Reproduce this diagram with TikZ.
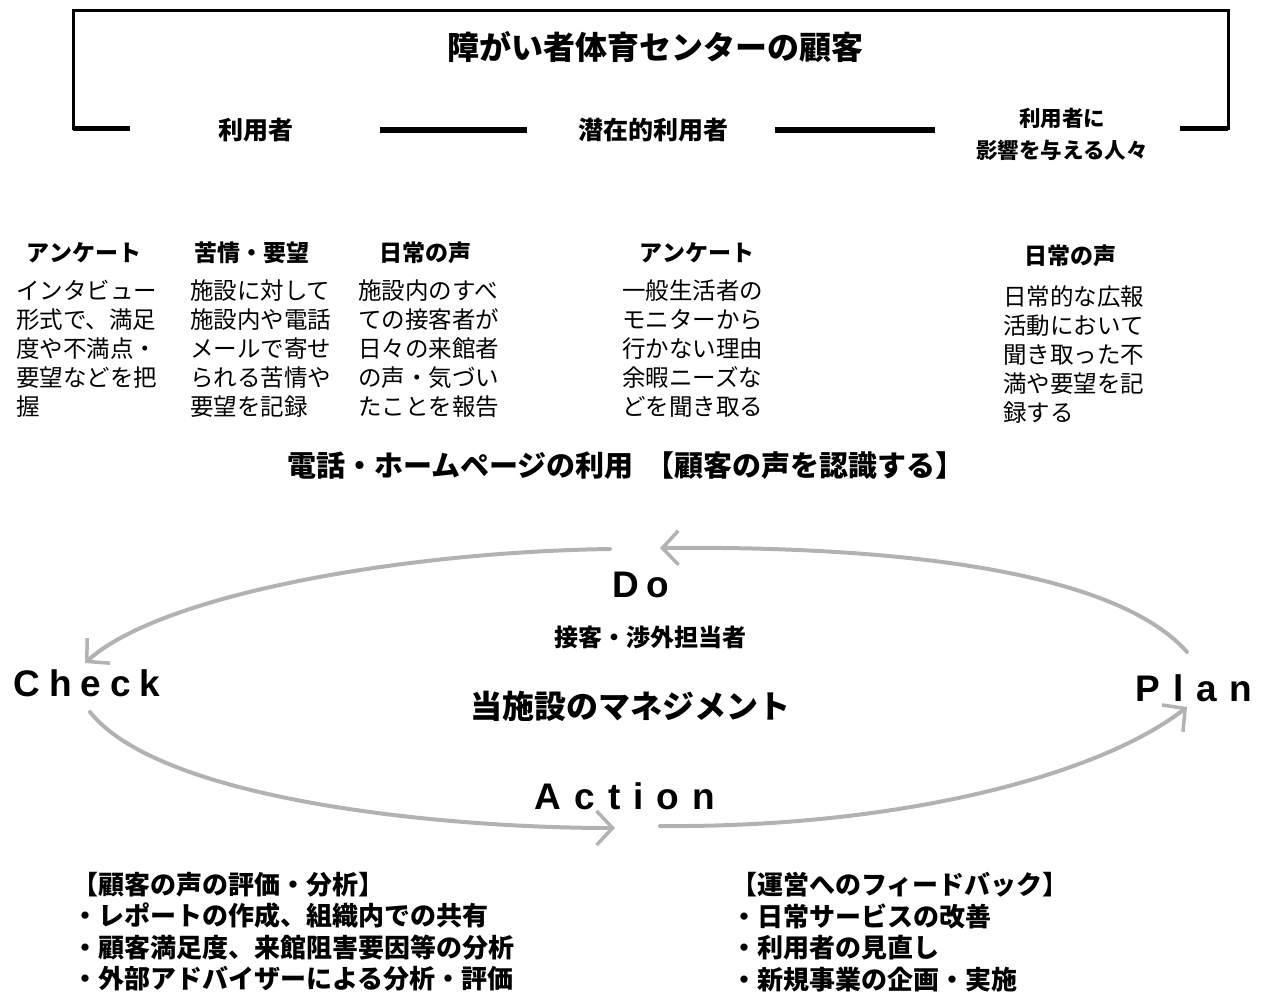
\documentclass[tikz,border=0pt]{standalone}
\usepackage{fontspec}
\usetikzlibrary{arrows.meta}
\newfontfamily\jp{Noto Sans CJK JP}
\newfontfamily\lat{Liberation Sans}
\begin{document}
\begin{tikzpicture}[x=1pt,y=-1pt,
  titlefont/.style={font=\jp\bfseries\fontsize{32}{36}\selectfont},
  grp/.style={font=\jp\bfseries\fontsize{25}{31}\selectfont, align=center},
  grpsmall/.style={font=\jp\bfseries\fontsize{21.5}{32}\selectfont, align=center},
  hd/.style={font=\jp\bfseries\fontsize{23}{28}\selectfont},
  body/.style={font=\jp\fontsize{23.5}{29}\selectfont, align=left, anchor=north west, inner sep=0pt},
  mid/.style={font=\jp\bfseries\fontsize{29}{32}\selectfont},
  pdca/.style={font=\lat\bfseries\fontsize{37}{40}\selectfont, inner sep=0pt},
  sub/.style={font=\jp\bfseries\fontsize{24}{28}\selectfont},
  mgmt/.style={font=\jp\bfseries\fontsize{32}{36}\selectfont},
  lst/.style={font=\jp\bfseries\fontsize{26}{31.5}\selectfont, align=left, anchor=north west, inner sep=0pt},
  frame/.style={line width=3pt},
  bar/.style={line width=6pt},
  cyc/.style={draw=gray!60, line width=4pt, line cap=round,
    -{Straight Barb[length=16pt,width=34pt,line width=3.5pt]}}]
\useasboundingbox (0,0) rectangle (1261,996);

% top bracket
\node[titlefont] (title) at (655,47) {障がい者体育センターの顧客};
\draw[frame] (130,128) -- (73,128) -- (73,10) -- (1228,10) -- (1228,128) -- (1180,128);
\draw[line width=5pt] (73,128) -- (130,128);
\draw[line width=5pt] (1180,128) -- (1228,128);
\node[grp] (user) at (256,130) {利用者};
\node[grp] (pot) at (653,130) {潜在的利用者};
\node[grpsmall] (infl) at (1062,134) {利用者に\\影響を与える人々};
\draw[bar] (380,130) -- (527,130);
\draw[bar] (775,130) -- (935,130);

% column headers
\node[hd] (h1) at (84,253) {アンケート};
\node[hd] (h2) at (252,253) {苦情・要望};
\node[hd] (h3) at (425,253) {日常の声};
\node[hd] (h4) at (697,253) {アンケート};
\node[hd] (h5) at (1070,256) {日常の声};

% column bodies
\node[body] (b1) at (16,280) {インタビュー\\形式で、満足\\度や不満点・\\要望などを把\\握};
\node[body] (b2) at (190,280) {施設に対して\\施設内や電話\\メールで寄せ\\られる苦情や\\要望を記録};
\node[body] (b3) at (358,280) {施設内のすべ\\ての接客者が\\日々の来館者\\の声・気づい\\たことを報告};
\node[body] (b4) at (622,280) {一般生活者の\\モニターから\\行かない理由\\余暇ニーズな\\どを聞き取る};
\node[body] (b5) at (1003,285) {日常的な広報\\活動において\\聞き取った不\\満や要望を記\\録する};

\node[mid] (tel) at (626,466) {電話・ホームページの利用\hspace{12pt}【顧客の声を認識する】};

% PDCA cycle
\node[pdca] (do) at (641,585) {D\hspace{7pt}o};
\node[pdca] (check) at (87,683) {C\hspace{9pt}h\hspace{9pt}e\hspace{9pt}c\hspace{9pt}k};
\node[pdca] (plan) at (1194,688) {P\hspace{13pt}l\hspace{13pt}a\hspace{13pt}n};
\node[pdca] (act) at (625,796) {A\hspace{13pt}c\hspace{13pt}t\hspace{13pt}i\hspace{13pt}o\hspace{13pt}n};
\node[sub] (staff) at (650,637) {接客・渉外担当者};
\node[mgmt] (mgmt) at (630,706) {当施設のマネジメント};

\coordinate (doL) at (610,549);
\coordinate (doR) at (660,548);
\coordinate (chkT) at (85,663);
\coordinate (chkB) at (90,712);
\coordinate (actL) at (615,828);
\coordinate (actR) at (660,826);
\coordinate (plT) at (1187,652);
\coordinate (plB) at (1187,707);

\draw[cyc] (plT) .. controls (1110,565) and (870,546) .. (doR);
\draw[cyc] (doL) .. controls (400,552) and (160,595) .. (chkT);
\draw[cyc] (chkB) .. controls (160,800) and (440,828) .. (actL);
\draw[cyc] (actR) .. controls (900,828) and (1100,775) .. (plB);

% bottom lists
\node[lst] (eval) at (72,872) {【顧客の声の評価・分析】\\・レポートの作成、組織内での共有\\・顧客満足度、来館阻害要因等の分析\\・外部アドバイザーによる分析・評価};
\node[lst] (fb) at (731,872) {【運営へのフィードバック】\\・日常サービスの改善\\・利用者の見直し\\・新規事業の企画・実施};
\end{tikzpicture}
\end{document}
